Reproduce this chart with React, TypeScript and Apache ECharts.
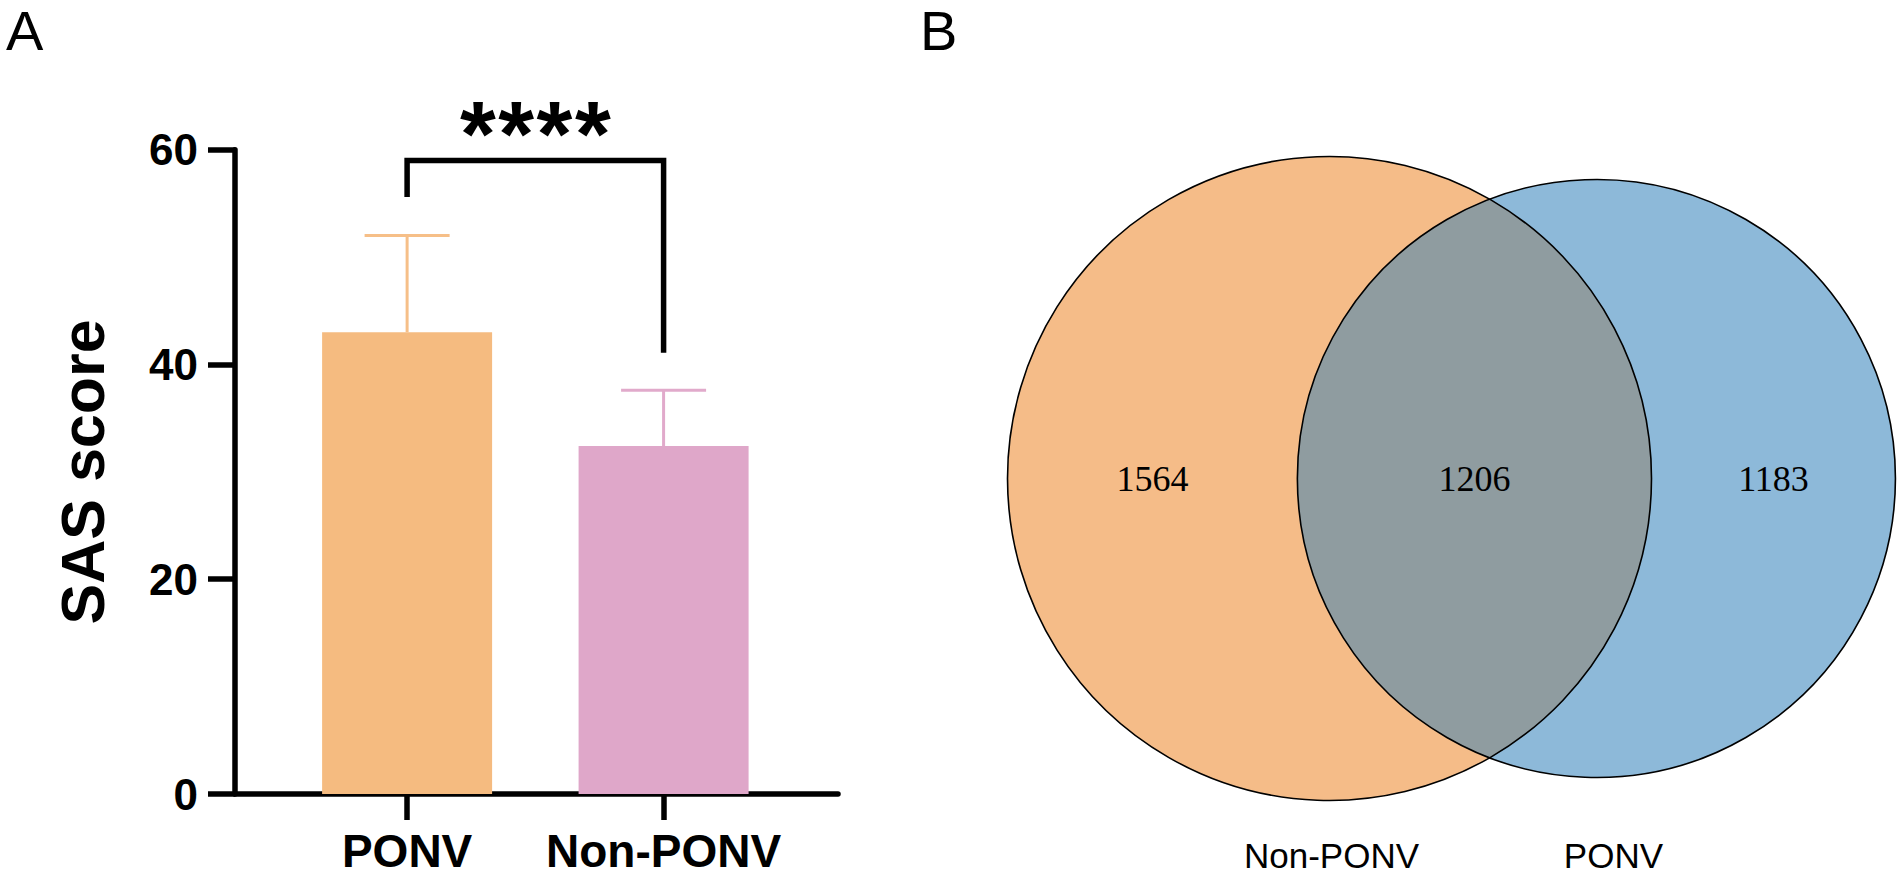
import React, { useEffect, useRef } from "react";
import * as echarts from "echarts";

// ---------- Data ----------
const categories = ["PONV", "Non-PONV"];
const meanValues = [43.0, 32.4];
const upperErrorValues = [52.0, 37.6];
const yTicks = [0, 20, 40, 60];
const bracketLegEnds = [55.6, 41.1];
const bracketTop = 59.0;
const significance = "****";

const vennSetNames = ["Non-PONV", "PONV"];
const vennOnlyCounts = [1564, 1183];
const vennSharedCount = 1206;

const panelLabels = ["A", "B"];

// ---------- Styles ----------
const SANS = "'Liberation Sans', Arial, Helvetica, sans-serif";
const SERIF = "'Liberation Serif', 'Times New Roman', serif";
const barColors = ["#F5BB80", "#DFA7C9"];
const errorColors = ["#F6BF88", "#E1AACB"];
const vennColors = ["#F5BC88", "#8DB9D9"];
const vennOverlap = "#8F9CA0";

export default function App() {
  const ref = useRef<HTMLDivElement>(null);

  useEffect(() => {
    document.body.style.margin = "0";
    if (!ref.current) return;
    const chart = echarts.init(ref.current, undefined, { renderer: "svg" });

    const panelText = (text: string, x: number, y: number) => ({
      type: "text",
      x,
      y,
      style: {
        text,
        fontSize: 56,
        lineHeight: 44,
        fontFamily: SANS,
        fill: "#000",
        verticalAlign: "middle",
        textVerticalAlign: "middle",
      },
    });

    const option: any = {
      animation: false,
      backgroundColor: "#ffffff",
      grid: { left: 235, top: 149.7, width: 603, height: 644.3, containLabel: false },
      xAxis: {
        type: "value",
        min: -0.671,
        max: 1.68,
        splitLine: { show: false },
        axisLine: { show: true, onZero: false, lineStyle: { color: "#000", width: 5.5 } },
        axisTick: {
          show: true,
          length: 26,
          customValues: [0, 1],
          lineStyle: { color: "#000", width: 5.5 },
        },
        axisLabel: {
          customValues: [0, 1],
          formatter: (v: number) => categories[Math.round(v)] ?? "",
          fontSize: 46,
          lineHeight: 36,
          fontWeight: "bold",
          color: "#000",
          fontFamily: SANS,
          margin: 39,
        },
      },
      yAxis: {
        type: "value",
        min: yTicks[0],
        max: yTicks[yTicks.length - 1],
        interval: yTicks[1] - yTicks[0],
        splitLine: { show: false },
        axisLine: { show: true, onZero: false, lineStyle: { color: "#000", width: 5.5 } },
        axisTick: { show: true, length: 27, lineStyle: { color: "#000", width: 5.5 } },
        axisLabel: {
          fontSize: 44,
          fontWeight: "bold",
          color: "#000",
          fontFamily: SANS,
          margin: 37,
        },
        name: "SAS score",
        nameLocation: "middle",
        nameRotate: 90,
        nameGap: 122,
        nameTextStyle: { fontSize: 61, fontWeight: "bold", color: "#000", fontFamily: SANS },
      },
      graphic: [panelText(panelLabels[0], 6, 30), panelText(panelLabels[1], 920, 30)],
      series: [
        {
          type: "bar",
          barWidth: 170,
          data: meanValues.map((v, i) => ({ value: [i, v], itemStyle: { color: barColors[i] } })),
          z: 2,
        },
        {
          type: "custom",
          z: 3,
          data: meanValues.map((m, i) => [i, m, upperErrorValues[i]]),
          encode: { x: 0, y: [1, 2] },
          renderItem: (params: any, api: any) => {
            const i = params.dataIndex;
            const x = api.value(0);
            const p0 = api.coord([x, api.value(1)]);
            const p1 = api.coord([x, api.value(2)]);
            const half = 42.5;
            const style = { stroke: errorColors[i], lineWidth: 3, fill: "none" };
            return {
              type: "group",
              children: [
                { type: "line", shape: { x1: p0[0], y1: p0[1], x2: p1[0], y2: p1[1] }, style },
                { type: "line", shape: { x1: p1[0] - half, y1: p1[1], x2: p1[0] + half, y2: p1[1] }, style },
              ],
            };
          },
        },
        {
          type: "custom",
          z: 4,
          data: [[0, 1, bracketLegEnds[0], bracketTop, bracketLegEnds[1]]],
          encode: { x: [0, 1], y: [2, 3, 4] },
          renderItem: (_params: any, api: any) => {
            const x0 = api.value(0);
            const x1 = api.value(1);
            const a = api.coord([x0, api.value(2)]);
            const b = api.coord([x0, api.value(3)]);
            const c = api.coord([x1, api.value(3)]);
            const d = api.coord([x1, api.value(4)]);
            const cx = (b[0] + c[0]) / 2;
            const stars = significance.split("");
            const step = 38.3;
            const children: any[] = [
              {
                type: "polyline",
                shape: { points: [a, b, c, d] },
                style: { stroke: "#000", lineWidth: 5.5, fill: "none", lineJoin: "miter", lineCap: "butt" },
              },
            ];
            stars.forEach((s, k) => {
              children.push({
                type: "text",
                x: cx + (k - (stars.length - 1) / 2) * step,
                y: b[1] - 26,
                style: {
                  text: s,
                  fontSize: 92,
                  lineHeight: 60,
                  fontWeight: "bold",
                  fontFamily: SANS,
                  fill: "#000",
                  align: "center",
                  verticalAlign: "middle",
                  textAlign: "center",
                  textVerticalAlign: "middle",
                },
              });
            });
            return { type: "group", children };
          },
        },
        {
          type: "custom",
          coordinateSystem: "none",
          z: 5,
          data: [[vennOnlyCounts[0], vennSharedCount, vennOnlyCounts[1]]],
          renderItem: (_params: any, api: any) => {
            const onlyL = api.value(0);
            const shared = api.value(1);
            const onlyR = api.value(2);
            const k = 6.118;
            const rL = k * Math.sqrt(onlyL + shared);
            const rR = k * Math.sqrt(onlyR + shared);
            const xL = 1329.5;
            const cy = 478.5;
            const dist = 266.9;
            const xR = xL + dist;
            const a = (dist * dist + rL * rL - rR * rR) / (2 * dist);
            const h = Math.sqrt(Math.max(0, rL * rL - a * a));
            const thL = Math.atan2(h, a);
            const thR = Math.atan2(h, dist - a);
            const pts: number[][] = [];
            const N = 120;
            for (let j = 0; j <= N; j++) {
              const t = -thL + (2 * thL * j) / N;
              pts.push([xL + rL * Math.cos(t), cy + rL * Math.sin(t)]);
            }
            for (let j = 0; j <= N; j++) {
              const t = Math.PI - thR + (2 * thR * j) / N;
              pts.push([xR + rR * Math.cos(t), cy - rR * Math.sin(t)]);
            }
            const lensLeft = xR - rR;
            const lensRight = xL + rL;
            const numStyle = (text: string, x: number) => ({
              type: "text",
              x,
              y: cy + 0.5,
              style: {
                text,
                fontSize: 36,
                fontFamily: SERIF,
                fill: "#000",
                align: "center",
                verticalAlign: "middle",
                textAlign: "center",
                textVerticalAlign: "middle",
              },
            });
            const nameStyle = (text: string, x: number) => ({
              type: "text",
              x,
              y: 855,
              style: {
                text,
                fontSize: 35,
                lineHeight: 34,
                fontFamily: SANS,
                fill: "#000",
                align: "center",
                verticalAlign: "middle",
                textAlign: "center",
                textVerticalAlign: "middle",
              },
            });
            return {
              type: "group",
              children: [
                { type: "circle", shape: { cx: xL, cy, r: rL }, style: { fill: vennColors[0] } },
                { type: "circle", shape: { cx: xR, cy, r: rR }, style: { fill: vennColors[1] } },
                { type: "polygon", shape: { points: pts }, style: { fill: vennOverlap } },
                { type: "circle", shape: { cx: xL, cy, r: rL }, style: { fill: "none", stroke: "#000", lineWidth: 1.6 } },
                { type: "circle", shape: { cx: xR, cy, r: rR }, style: { fill: "none", stroke: "#000", lineWidth: 1.6 } },
                numStyle(String(onlyL), ((xL - rL) + lensLeft) / 2),
                numStyle(String(shared), (lensLeft + lensRight) / 2),
                numStyle(String(onlyR), (lensRight + (xR + rR)) / 2),
                nameStyle(vennSetNames[0], xL + 2),
                nameStyle(vennSetNames[1], xR + 17),
              ],
            };
          },
        },
      ],
    };

    chart.setOption(option);
    return () => chart.dispose();
  }, []);

  return (
    <div
      ref={ref}
      style={{ position: "absolute", left: 0, top: 0, width: 1902, height: 878, background: "#fff" }}
    />
  );
}
